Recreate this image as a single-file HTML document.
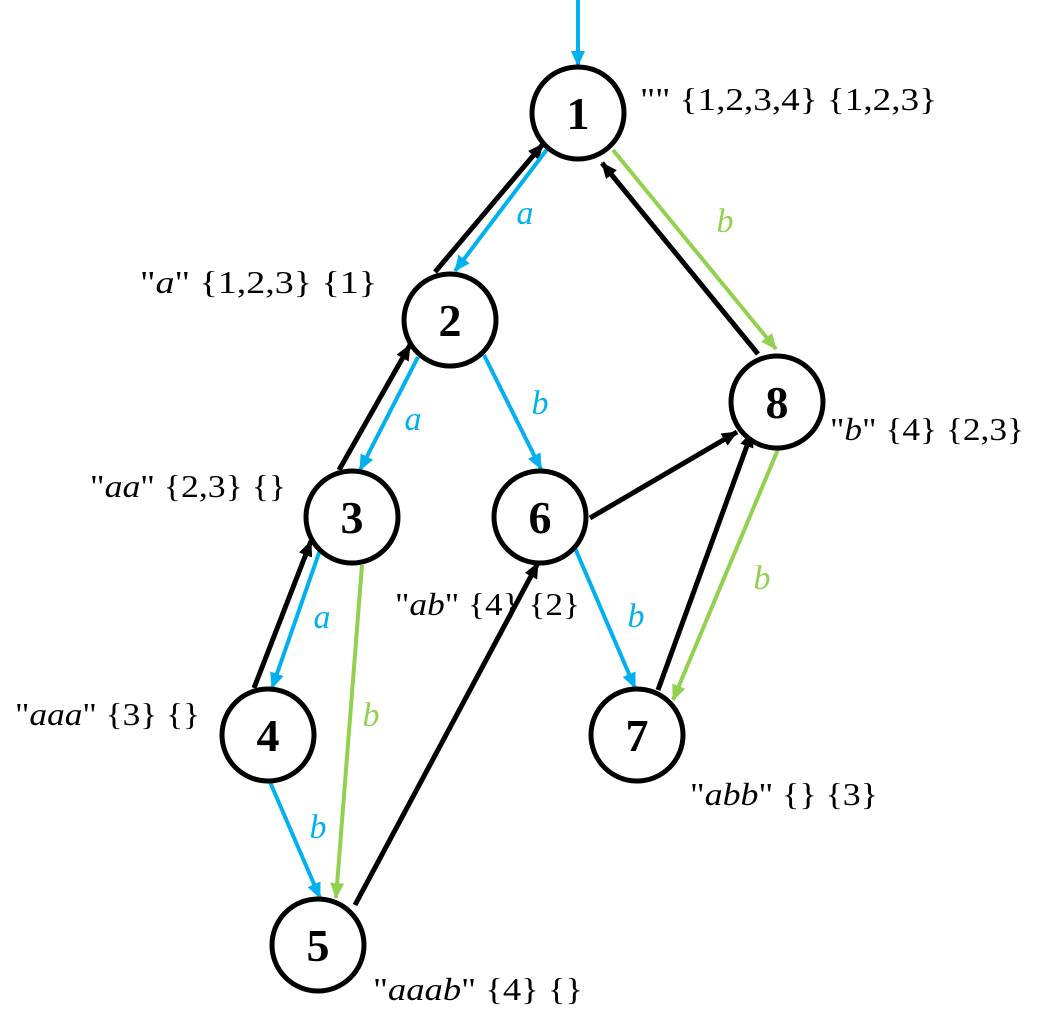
<!DOCTYPE html>
<html><head><style>
html,body{margin:0;padding:0;background:#fff;}
svg{display:block;}
text{font-family:"Liberation Serif",serif;}
</style></head><body>
<svg width="1044" height="1029" viewBox="0 0 1044 1029" xmlns="http://www.w3.org/2000/svg">
<defs>
<marker id="mk" markerWidth="16" markerHeight="14" refX="15" refY="7" orient="auto" markerUnits="userSpaceOnUse"><path d="M0,0 L16,7 L0,14 z" fill="#000"/></marker>
<marker id="mb" markerWidth="16" markerHeight="14" refX="15" refY="7" orient="auto" markerUnits="userSpaceOnUse"><path d="M0,0 L16,7 L0,14 z" fill="#00b0f0"/></marker>
<marker id="mg" markerWidth="16" markerHeight="14" refX="15" refY="7" orient="auto" markerUnits="userSpaceOnUse"><path d="M0,0 L16,7 L0,14 z" fill="#92d050"/></marker>
</defs>
<g fill="none" stroke-width="4">
<line x1="578" y1="0" x2="578" y2="66" stroke="#00b0f0" marker-end="url(#mb)"/>
<line x1="435" y1="272" x2="543" y2="144" stroke="#000" stroke-width="5" marker-end="url(#mk)"/>
<line x1="548" y1="148" x2="455" y2="271" stroke="#00b0f0" marker-end="url(#mb)"/>
<line x1="613" y1="150" x2="776" y2="349" stroke="#92d050" marker-end="url(#mg)"/>
<line x1="758" y1="354" x2="602" y2="163" stroke="#000" stroke-width="5" marker-end="url(#mk)"/>
<line x1="418" y1="357" x2="360" y2="470" stroke="#00b0f0" marker-end="url(#mb)"/>
<line x1="339" y1="470" x2="410" y2="345" stroke="#000" stroke-width="5" marker-end="url(#mk)"/>
<line x1="484" y1="355" x2="541" y2="469" stroke="#00b0f0" marker-end="url(#mb)"/>
<line x1="590" y1="518" x2="737" y2="432" stroke="#000" stroke-width="5" marker-end="url(#mk)"/>
<line x1="320" y1="550" x2="272" y2="688" stroke="#00b0f0" marker-end="url(#mb)"/>
<line x1="254" y1="688" x2="311" y2="541" stroke="#000" stroke-width="5" marker-end="url(#mk)"/>
<line x1="362" y1="565" x2="336" y2="898" stroke="#92d050" marker-end="url(#mg)"/>
<line x1="270" y1="782" x2="320" y2="898" stroke="#00b0f0" marker-end="url(#mb)"/>
<line x1="355" y1="905" x2="538" y2="563" stroke="#000" stroke-width="5" marker-end="url(#mk)"/>
<line x1="575" y1="548" x2="635" y2="688" stroke="#00b0f0" marker-end="url(#mb)"/>
<line x1="658" y1="690" x2="752" y2="432" stroke="#000" stroke-width="5" marker-end="url(#mk)"/>
<line x1="779" y1="447" x2="673" y2="700" stroke="#92d050" marker-end="url(#mg)"/>
</g>
<g fill="#fff" stroke="#000" stroke-width="5">
<circle cx="578" cy="113" r="46"/>
<circle cx="450" cy="320" r="46"/>
<circle cx="352" cy="517" r="46"/>
<circle cx="540" cy="517" r="46"/>
<circle cx="268" cy="735" r="46"/>
<circle cx="637" cy="735" r="46"/>
<circle cx="777" cy="402" r="46"/>
<circle cx="318" cy="945" r="46"/>
</g>
<g font-size="46" font-weight="bold" text-anchor="middle" fill="#000">
<text x="578" y="129">1</text>
<text x="450" y="336">2</text>
<text x="352" y="533">3</text>
<text x="540" y="533">6</text>
<text x="268" y="751">4</text>
<text x="637" y="751">7</text>
<text x="777" y="418">8</text>
<text x="318" y="961">5</text>
</g>
<g font-size="34" font-style="italic" text-anchor="middle">
<text x="525" y="224" fill="#00b0f0">a</text>
<text x="725" y="232" fill="#92d050">b</text>
<text x="413" y="430" fill="#00b0f0">a</text>
<text x="540" y="414" fill="#00b0f0">b</text>
<text x="322" y="628" fill="#00b0f0">a</text>
<text x="371" y="726" fill="#92d050">b</text>
<text x="318" y="838" fill="#00b0f0">b</text>
<text x="636" y="627" fill="#00b0f0">b</text>
<text x="762" y="589" fill="#92d050">b</text>
</g>
<g font-size="32" fill="#000">
<text x="640" y="110" textLength="297" lengthAdjust="spacingAndGlyphs">"" {1,2,3,4} {1,2,3}</text>
<text x="140" y="293" textLength="237" lengthAdjust="spacingAndGlyphs">"<tspan font-style="italic">a</tspan>" {1,2,3} {1}</text>
<text x="90" y="497" textLength="196" lengthAdjust="spacingAndGlyphs">"<tspan font-style="italic">aa</tspan>" {2,3} {}</text>
<text x="395" y="615" textLength="185" lengthAdjust="spacingAndGlyphs">"<tspan font-style="italic">ab</tspan>" {4} {2}</text>
<text x="15" y="725" textLength="185" lengthAdjust="spacingAndGlyphs">"<tspan font-style="italic">aaa</tspan>" {3} {}</text>
<text x="830" y="440" textLength="194" lengthAdjust="spacingAndGlyphs">"<tspan font-style="italic">b</tspan>" {4} {2,3}</text>
<text x="690" y="805" textLength="188" lengthAdjust="spacingAndGlyphs">"<tspan font-style="italic">abb</tspan>" {} {3}</text>
<text x="373" y="1000" textLength="210" lengthAdjust="spacingAndGlyphs">"<tspan font-style="italic">aaab</tspan>" {4} {}</text>
</g>
</svg>
</body></html>
